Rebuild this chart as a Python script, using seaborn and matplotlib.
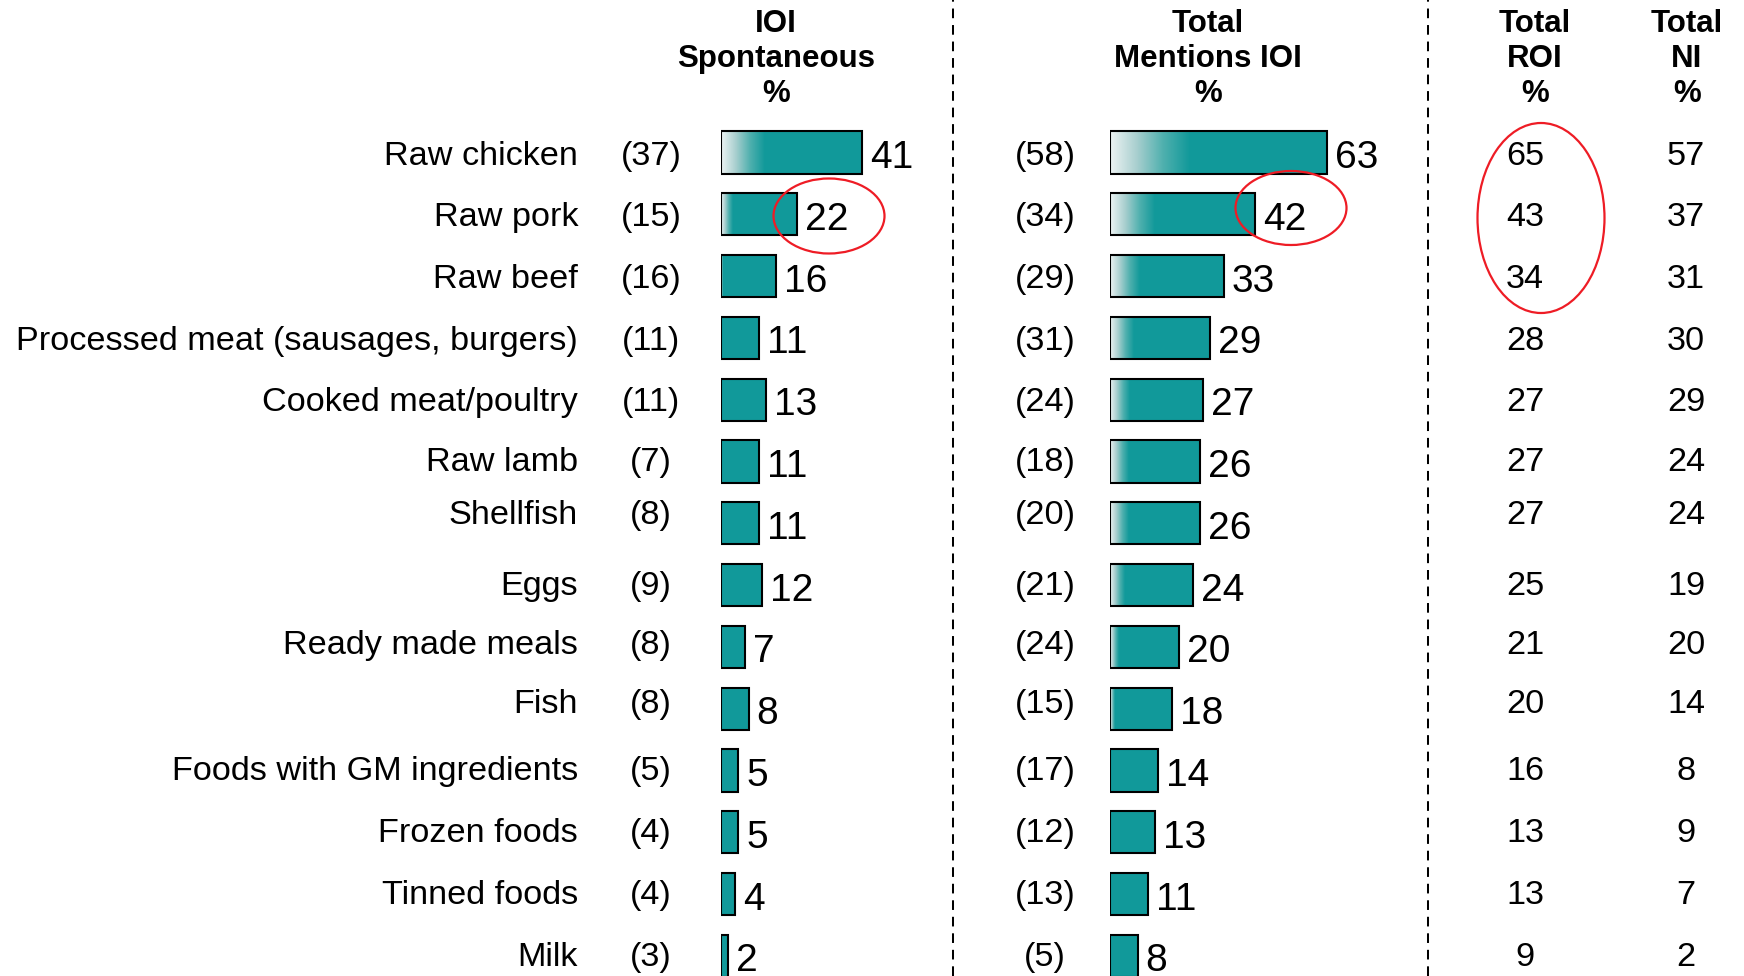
import numpy as np
import pandas as pd
import matplotlib
matplotlib.use("Agg")
import matplotlib.pyplot as plt
import seaborn as sns
from matplotlib import transforms
from matplotlib.patches import Rectangle, Ellipse
from matplotlib.lines import Line2D
from matplotlib.colors import LinearSegmentedColormap

# ---------------- data ----------------
categories = ["Raw chicken", "Raw pork", "Raw beef", "Processed meat (sausages, burgers)",
              "Cooked meat/poultry", "Raw lamb", "Shellfish", "Eggs", "Ready made meals",
              "Fish", "Foods with GM ingredients", "Frozen foods", "Tinned foods", "Milk"]
spont_prev = [37, 15, 16, 11, 11, 7, 8, 9, 8, 8, 5, 4, 4, 3]
spont = [41, 22, 16, 11, 13, 11, 11, 12, 7, 8, 5, 5, 4, 2]
mentions_prev = [58, 34, 29, 31, 24, 18, 20, 21, 24, 15, 17, 12, 13, 5]
mentions = [63, 42, 33, 29, 27, 26, 26, 24, 20, 18, 14, 13, 11, 8]
total_roi = [65, 43, 34, 28, 27, 27, 27, 25, 21, 20, 16, 13, 13, 9]
total_ni = [57, 37, 31, 30, 29, 24, 24, 19, 20, 14, 8, 9, 7, 2]
headers = ["IOI\nSpontaneous\n%", "Total\nMentions IOI\n%", "Total\nROI\n%", "Total\nNI\n%"]

# ---------------- layout ----------------
W, H = 1744, 976
PPU = 3.45            # pixels per percentage point
ROW0, PITCH = 152.5, 61.8
label_dy = [1, 0, 0, 0, -1, -2, -11, -2, -5, -8, -2, -2, -2, -2]  # px nudges for table text
TEAL = "#11999a"
FONT = "Liberation Sans"

sns.set_theme(style="white")
plt.rcParams["font.family"] = [FONT, "DejaVu Sans"]
plt.rcParams["text.color"] = "black"

fig = plt.figure(figsize=(W / 100, H / 100), dpi=100)
fig.patch.set_facecolor("white")

ylim = ((H - ROW0) / PITCH, -ROW0 / PITCH)
grad_cmap = LinearSegmentedColormap.from_list("g", ["#eef4f4", "#a9cfcf", "#4fb0ae", TEAL])


def add_panel(left_px, right_px, values):
    ax = fig.add_axes([left_px / W, 0, (right_px - left_px) / W, 1])
    df = pd.DataFrame({"cat": categories, "val": values})
    sns.barplot(data=df, x="val", y="cat", ax=ax, color=TEAL, saturation=1,
                width=0.68, edgecolor="none", orient="h")
    grad = np.linspace(0, 1, 256).reshape(1, -1)
    for p, v in zip(ax.patches, values):
        x0, y0, w, h = p.get_x(), p.get_y(), p.get_width(), p.get_height()
        g = 0.48 * (v - 15)
        if g > 0:
            ax.imshow(grad, cmap=grad_cmap, extent=(x0, x0 + min(g, w), y0 + h, y0),
                      aspect="auto", interpolation="bilinear", zorder=p.get_zorder() + 0.1)
        ax.add_patch(Rectangle((x0, y0), w, h, fill=False, ec="black", lw=1.5,
                               zorder=p.get_zorder() + 0.2))
        ax.text(x0 + w + 8 / PPU, y0 + h / 2 + 1.5 / PITCH, str(v), ha="left",
                va="center_baseline", fontsize=28, color="black", clip_on=False)
    ax.set_xlim(0, (right_px - left_px) / PPU)
    ax.set_ylim(*ylim)
    ax.axis("off")
    return ax


ax1 = add_panel(721, 950, spont)
ax2 = add_panel(1110, 1425, mentions)

trans = transforms.blended_transform_factory(fig.transFigure, ax1.transData)
FS = 24.7
for i, cat in enumerate(categories):
    y = i + label_dy[i] / PITCH
    ax1.text(578 / W, y, cat, transform=trans, ha="right", va="center_baseline", fontsize=FS)
    ax1.text(651 / W, y, f"({spont_prev[i]})", transform=trans, ha="center",
             va="center_baseline", fontsize=FS)
    ax1.text(1045 / W, y, f"({mentions_prev[i]})", transform=trans, ha="center",
             va="center_baseline", fontsize=FS)
    ax1.text(1525 / W, y, str(total_roi[i]), transform=trans, ha="center",
             va="center_baseline", fontsize=FS)
    ax1.text(1686 / W, y, str(total_ni[i]), transform=trans, ha="center",
             va="center_baseline", fontsize=FS)

for hx, htxt in zip([776, 1208, 1535, 1687], headers):
    fig.text(hx / W, 1 - 59 / H, htxt, ha="center", va="center", fontsize=22.5,
             fontweight="bold", linespacing=1.2)

for lx in [953, 1428]:
    fig.add_artist(Line2D([lx / W, lx / W], [0, 1], transform=fig.transFigure,
                          color="black", lw=1.45, ls=(0, (4.8, 3.4))))

for (cx, cy, ew, eh) in [(829, 216, 111, 75), (1291, 208, 111, 74), (1541, 218, 127, 190)]:
    fig.add_artist(Ellipse((cx / W, 1 - cy / H), ew / W, eh / H, transform=fig.transFigure,
                           fill=False, ec="#ee1c25", lw=1.6))

fig.savefig("out.png", dpi=100, facecolor="white")
